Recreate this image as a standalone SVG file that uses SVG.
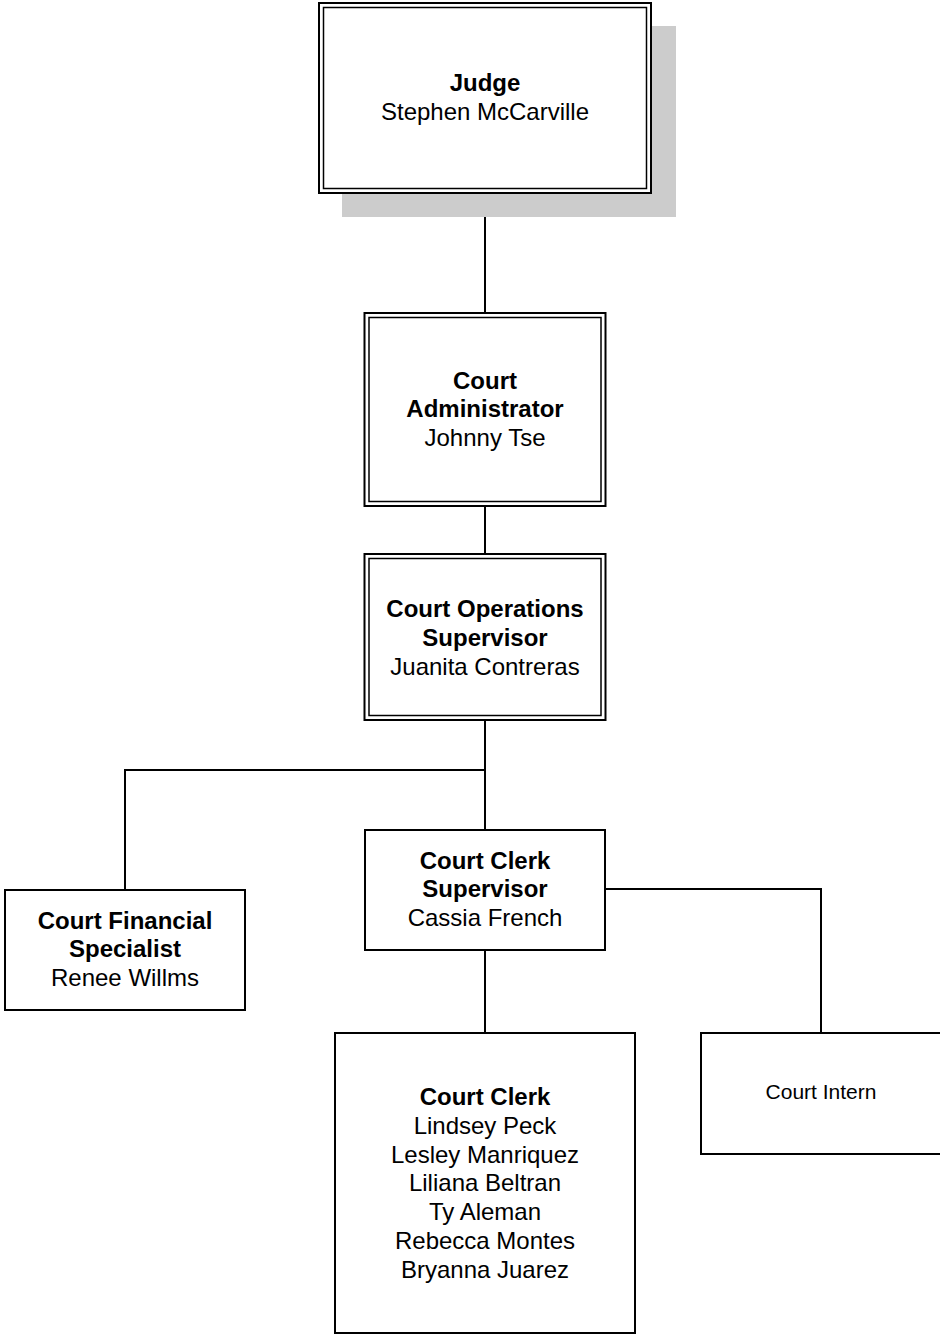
<svg xmlns="http://www.w3.org/2000/svg" width="940" height="1334" viewBox="0 0 940 1334">
<style>
text{font-family:"Liberation Sans",Arial,sans-serif;font-size:24px;fill:#000;text-anchor:middle}
.b{font-weight:bold}
.sm{font-size:21px}
.box{fill:#fff;stroke:#000;stroke-width:2}
.in{fill:none;stroke:#000;stroke-width:1.5}
.ln{fill:none;stroke:#000;stroke-width:2}
</style>
<rect width="940" height="1334" fill="#fff"/>
<g id="connectors">
<line class="ln" x1="485" y1="193" x2="485" y2="313"/>
<line class="ln" x1="485" y1="506" x2="485" y2="554"/>
<line class="ln" x1="485" y1="720" x2="485" y2="830"/>
<polyline class="ln" points="485,770 125,770 125,890"/>
<polyline class="ln" points="605,889 821,889 821,1033"/>
<line class="ln" x1="485" y1="950" x2="485" y2="1033"/>
</g>
<g id="judge">
<rect x="342" y="26" width="334" height="191" fill="#ccc"/>
<rect class="box" x="319" y="3" width="332" height="190"/>
<rect class="in" x="323.5" y="7.5" width="323" height="181"/>
<text class="b" x="485" y="91">Judge</text>
<text x="485" y="120">Stephen McCarville</text>
</g>
<g id="admin">
<rect class="box" x="364.5" y="313" width="241" height="193"/>
<rect class="in" x="369" y="317.5" width="232" height="184"/>
<text class="b" x="485" y="389">Court</text>
<text class="b" x="485" y="417">Administrator</text>
<text x="485" y="446">Johnny Tse</text>
</g>
<g id="ops">
<rect class="box" x="364.5" y="554" width="241" height="166"/>
<rect class="in" x="369" y="558.5" width="232" height="157"/>
<text class="b" x="485" y="617">Court Operations</text>
<text class="b" x="485" y="646">Supervisor</text>
<text x="485" y="675">Juanita Contreras</text>
</g>
<g id="financial">
<rect class="box" x="5" y="890" width="240" height="120"/>
<text class="b" x="125" y="929">Court Financial</text>
<text class="b" x="125" y="957">Specialist</text>
<text x="125" y="986">Renee Willms</text>
</g>
<g id="clerksup">
<rect class="box" x="365" y="830" width="240" height="120"/>
<text class="b" x="485" y="869">Court Clerk</text>
<text class="b" x="485" y="897">Supervisor</text>
<text x="485" y="926">Cassia French</text>
</g>
<g id="clerk">
<rect class="box" x="335" y="1033" width="300" height="300"/>
<text class="b" x="485" y="1105">Court Clerk</text>
<text x="485" y="1134">Lindsey Peck</text>
<text x="485" y="1163">Lesley Manriquez</text>
<text x="485" y="1191">Liliana Beltran</text>
<text x="485" y="1220">Ty Aleman</text>
<text x="485" y="1249">Rebecca Montes</text>
<text x="485" y="1278">Bryanna Juarez</text>
</g>
<g id="intern">
<rect class="box" x="701" y="1033" width="250" height="121"/>
<text class="sm" x="821" y="1099">Court Intern</text>
</g>
</svg>
